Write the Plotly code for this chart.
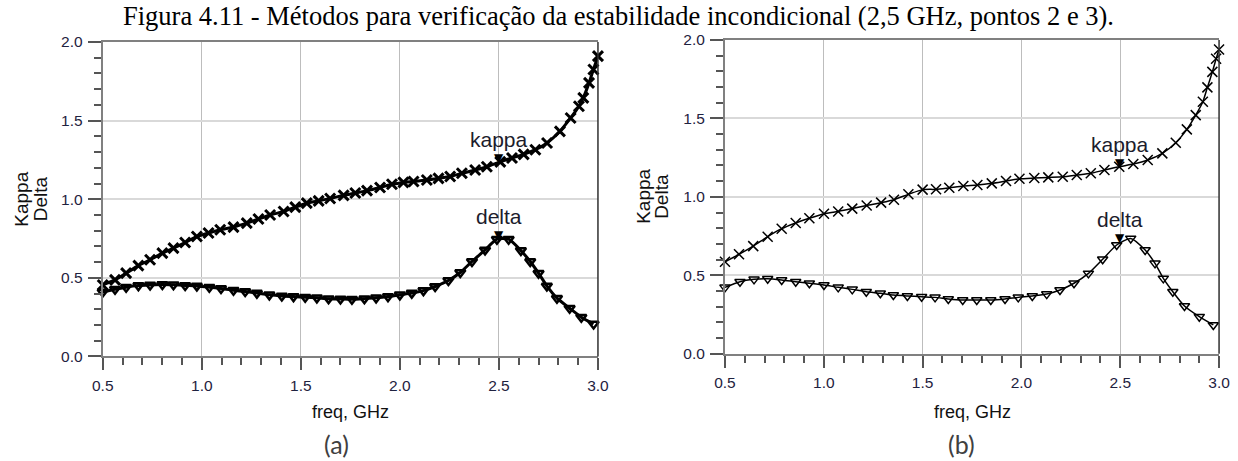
import plotly.graph_objects as go

# ---- panel (a): stability factors, point 2 ----
freq_a_kappa = [0.500, 0.562, 0.618, 0.680, 0.739, 0.801, 0.857, 0.916, 0.975, 1.034,
                1.093, 1.160, 1.227, 1.286, 1.345, 1.413, 1.472, 1.530, 1.590, 1.648,
                1.716, 1.775, 1.834, 1.900, 1.960, 2.018, 2.069, 2.136, 2.195, 2.254,
                2.313, 2.380, 2.439, 2.507, 2.566, 2.625, 2.684, 2.743, 2.808, 2.862,
                2.904, 2.926, 2.955, 2.977, 3.000]
kappa_a = [0.455, 0.487, 0.530, 0.578, 0.615, 0.657, 0.689, 0.725, 0.763, 0.785,
           0.806, 0.823, 0.848, 0.874, 0.900, 0.922, 0.950, 0.975, 0.990, 1.005,
           1.025, 1.040, 1.055, 1.075, 1.095, 1.107, 1.113, 1.122, 1.133, 1.145,
           1.165, 1.186, 1.207, 1.238, 1.262, 1.285, 1.315, 1.358, 1.432, 1.517,
           1.591, 1.645, 1.740, 1.825, 1.910]

freq_a_delta = [0.500, 0.562, 0.618, 0.680, 0.739, 0.801, 0.857, 0.916, 0.975, 1.038,
                1.097, 1.160, 1.219, 1.278, 1.341, 1.404, 1.463, 1.522, 1.581, 1.640,
                1.700, 1.758, 1.821, 1.880, 1.940, 2.000, 2.060, 2.119, 2.178, 2.245,
                2.305, 2.364, 2.430, 2.490, 2.549, 2.611, 2.658, 2.700, 2.742, 2.793,
                2.857, 2.916, 2.978]
delta_a = [0.410, 0.428, 0.441, 0.451, 0.455, 0.458, 0.456, 0.452, 0.449, 0.441,
           0.432, 0.421, 0.413, 0.403, 0.392, 0.385, 0.381, 0.377, 0.373, 0.368,
           0.366, 0.364, 0.368, 0.373, 0.381, 0.392, 0.403, 0.419, 0.445, 0.483,
           0.534, 0.604, 0.678, 0.746, 0.746, 0.674, 0.604, 0.530, 0.449, 0.371,
           0.307, 0.250, 0.207]

# ---- panel (b): stability factors, point 3 ----
freq_b_kappa = [0.500, 0.571, 0.643, 0.716, 0.787, 0.858, 0.927, 1.001, 1.073, 1.144,
                1.217, 1.290, 1.355, 1.428, 1.500, 1.568, 1.635, 1.706, 1.777, 1.850,
                1.922, 1.990, 2.065, 2.136, 2.209, 2.280, 2.351, 2.420, 2.495, 2.566,
                2.639, 2.713, 2.781, 2.837, 2.882, 2.918, 2.941, 2.966, 2.985, 3.000]
kappa_b = [0.586, 0.634, 0.686, 0.746, 0.797, 0.833, 0.863, 0.892, 0.907, 0.925,
           0.945, 0.963, 0.982, 1.016, 1.046, 1.048, 1.058, 1.069, 1.075, 1.086,
           1.101, 1.115, 1.120, 1.124, 1.128, 1.139, 1.150, 1.171, 1.192, 1.209,
           1.235, 1.277, 1.345, 1.430, 1.521, 1.606, 1.698, 1.797, 1.880, 1.940]

freq_b_delta = [0.500, 0.576, 0.647, 0.716, 0.787, 0.858, 0.927, 1.001, 1.073, 1.144,
                1.215, 1.286, 1.352, 1.423, 1.495, 1.563, 1.630, 1.703, 1.774, 1.845,
                1.917, 1.984, 2.055, 2.128, 2.195, 2.266, 2.339, 2.411, 2.482, 2.553,
                2.626, 2.676, 2.718, 2.766, 2.825, 2.900, 2.971]
delta_b = [0.423, 0.459, 0.474, 0.478, 0.470, 0.459, 0.449, 0.438, 0.423, 0.410,
           0.395, 0.385, 0.374, 0.368, 0.363, 0.359, 0.349, 0.342, 0.342, 0.342,
           0.349, 0.359, 0.368, 0.380, 0.406, 0.449, 0.512, 0.602, 0.693, 0.735,
           0.661, 0.576, 0.480, 0.395, 0.304, 0.236, 0.183]

# marker readouts at 2.5 GHz
marker_freq = 2.5
marker_a = {"kappa": 1.238, "delta": 0.750}
marker_b = {"kappa": 1.192, "delta": 0.710}

TITLE = "Figura 4.11 - Métodos para verificação da estabilidade incondicional (2,5 GHz, pontos 2 e 3)."
SANS = "Liberation Sans, Arial, sans-serif"
TICK_COLOR = "#1f2240"
W, H = 1238, 461

fig = go.Figure()


def add_series(x, y, xa, ya, symbol, line_w, mk_w, mk_size):
    fig.add_trace(go.Scatter(
        x=x, y=y, xaxis=xa, yaxis=ya, mode="lines+markers",
        line=dict(color="black", width=line_w, shape="spline", smoothing=0.6),
        marker=dict(symbol=symbol, size=mk_size, color="black",
                    line=dict(color="black", width=mk_w)),
        cliponaxis=False, showlegend=False, hoverinfo="skip"))


# panel (a) – heavy traces
add_series(freq_a_kappa, kappa_a, "x", "y", "x-thin", 3, 3, 10)
add_series(freq_a_delta, delta_a, "x", "y", "triangle-down-open", 3, 2.5, 9)
# panel (b) – thin traces
add_series(freq_b_kappa, kappa_b, "x2", "y2", "x-thin", 1.5, 1.5, 10)
add_series(freq_b_delta, delta_b, "x2", "y2", "triangle-down-open", 1.5, 1.5, 9)

dom_xa = [0.0830, 0.4830]
dom_xb = [0.5856, 0.9847]
dom_ya = [0.2267, 0.9089]
dom_yb = [0.2328, 0.9132]


def x_axis(domain, anchor):
    return dict(domain=domain, anchor=anchor, range=[0.5, 3.0], tick0=0.5, dtick=0.5,
                tickformat=".1f", ticks="outside", ticklen=12, tickwidth=1.5,
                tickcolor="#555555", showline=True, linecolor="#808080", linewidth=2,
                mirror=True, showgrid=True, gridcolor="#bdbdbd", gridwidth=1,
                zeroline=False, ticklabelstandoff=2,
                tickfont=dict(family=SANS, size=15.5, color=TICK_COLOR),
                minor=dict(dtick=0.1, tick0=0.5, ticks="outside", ticklen=7,
                           tickwidth=1.5, tickcolor="#555555", showgrid=False))


def y_axis(domain, anchor):
    return dict(domain=domain, anchor=anchor, range=[0, 2.0], tick0=0, dtick=0.5,
                tickformat=".1f", ticks="outside", ticklen=13, tickwidth=1.5,
                tickcolor="#555555", showline=True, linecolor="#808080", linewidth=2,
                mirror=False, showgrid=True, gridcolor="#d9d9d9", gridwidth=2,
                zeroline=False, ticklabelstandoff=2,
                tickfont=dict(family=SANS, size=15.5, color=TICK_COLOR),
                minor=dict(dtick=0.1, tick0=0, ticks="outside", ticklen=7,
                           tickwidth=1.5, tickcolor="#555555", showgrid=False))


fig.update_layout(
    width=W, height=H, margin=dict(l=0, r=0, t=0, b=0, autoexpand=False),
    paper_bgcolor="white", plot_bgcolor="white",
    xaxis=x_axis(dom_xa, "y"), yaxis=y_axis(dom_ya, "x"),
    xaxis2=x_axis(dom_xb, "y2"), yaxis2=y_axis(dom_yb, "x2"),
)

# right-hand frame edges
for xref, yref in (("x domain", "y domain"), ("x2 domain", "y2 domain")):
    fig.add_shape(type="line", xref=xref, yref=yref, x0=1, x1=1, y0=0, y1=1,
                  line=dict(color="#303030", width=1.5))

ann = []
ann.append(dict(text=TITLE, xref="paper", yref="paper", x=618 / W, y=1, yshift=1,
                xanchor="center", yanchor="top", showarrow=False,
                font=dict(family="Liberation Serif, Times New Roman, serif", size=26.5,
                          color="black")))

for (dom_x, dom_y, lab, x_kappa, x_delta, sub_x) in (
        (dom_xa, dom_ya, "(a)", 21.5, 40, 336),
        (dom_xb, dom_yb, "(b)", 644, 662, 961)):
    y_mid = (dom_y[0] + dom_y[1]) / 2
    for word, px in (("Kappa", x_kappa), ("Delta", x_delta)):
        ann.append(dict(text=word, xref="paper", yref="paper", x=px / W, y=y_mid,
                        xanchor="center", yanchor="middle", textangle=-90,
                        showarrow=False,
                        font=dict(family=SANS, size=19, color="#111111")))
    ann.append(dict(text="freq, GHz", xref="paper", yref="paper",
                    x=(dom_x[0] + dom_x[1]) / 2, y=1 - 412 / H,
                    xanchor="center", yanchor="middle", showarrow=False,
                    font=dict(family=SANS, size=18, color="#111111")))
    ann.append(dict(text=lab, xref="paper", yref="paper", x=sub_x / W,
                    y=1 - 444 / H, xanchor="center", yanchor="middle",
                    showarrow=False,
                    font=dict(family="Lato, Open Sans, sans-serif", size=25,
                              color="#404040")))

for (xr, yr, mk) in (("x", "y", marker_a), ("x2", "y2", marker_b)):
    for name, val in mk.items():
        ann.append(dict(text="▼", xref=xr, yref=yr, x=marker_freq, y=val,
                        xanchor="center", yanchor="middle", yshift=4,
                        showarrow=False,
                        font=dict(family="DejaVu Sans", size=12, color="black")))
        ann.append(dict(text=name, xref=xr, yref=yr, x=marker_freq, y=val,
                        xanchor="center", yanchor="bottom", yshift=9,
                        showarrow=False,
                        font=dict(family=SANS, size=21, color="#1c1c2c")))

fig.update_layout(annotations=ann)

# page without body margin so the figure occupies the full window
page_script = (
    "document.body.style.margin='0';document.body.style.padding='0';"
    "document.body.style.overflow='hidden';"
    "var gd=document.getElementById('{plot_id}');"
    "Plotly.relayout(gd,{width:%d,height:%d});" % (W, H)
)
fig.write_html("out.html", config={"responsive": False}, post_script=page_script)
